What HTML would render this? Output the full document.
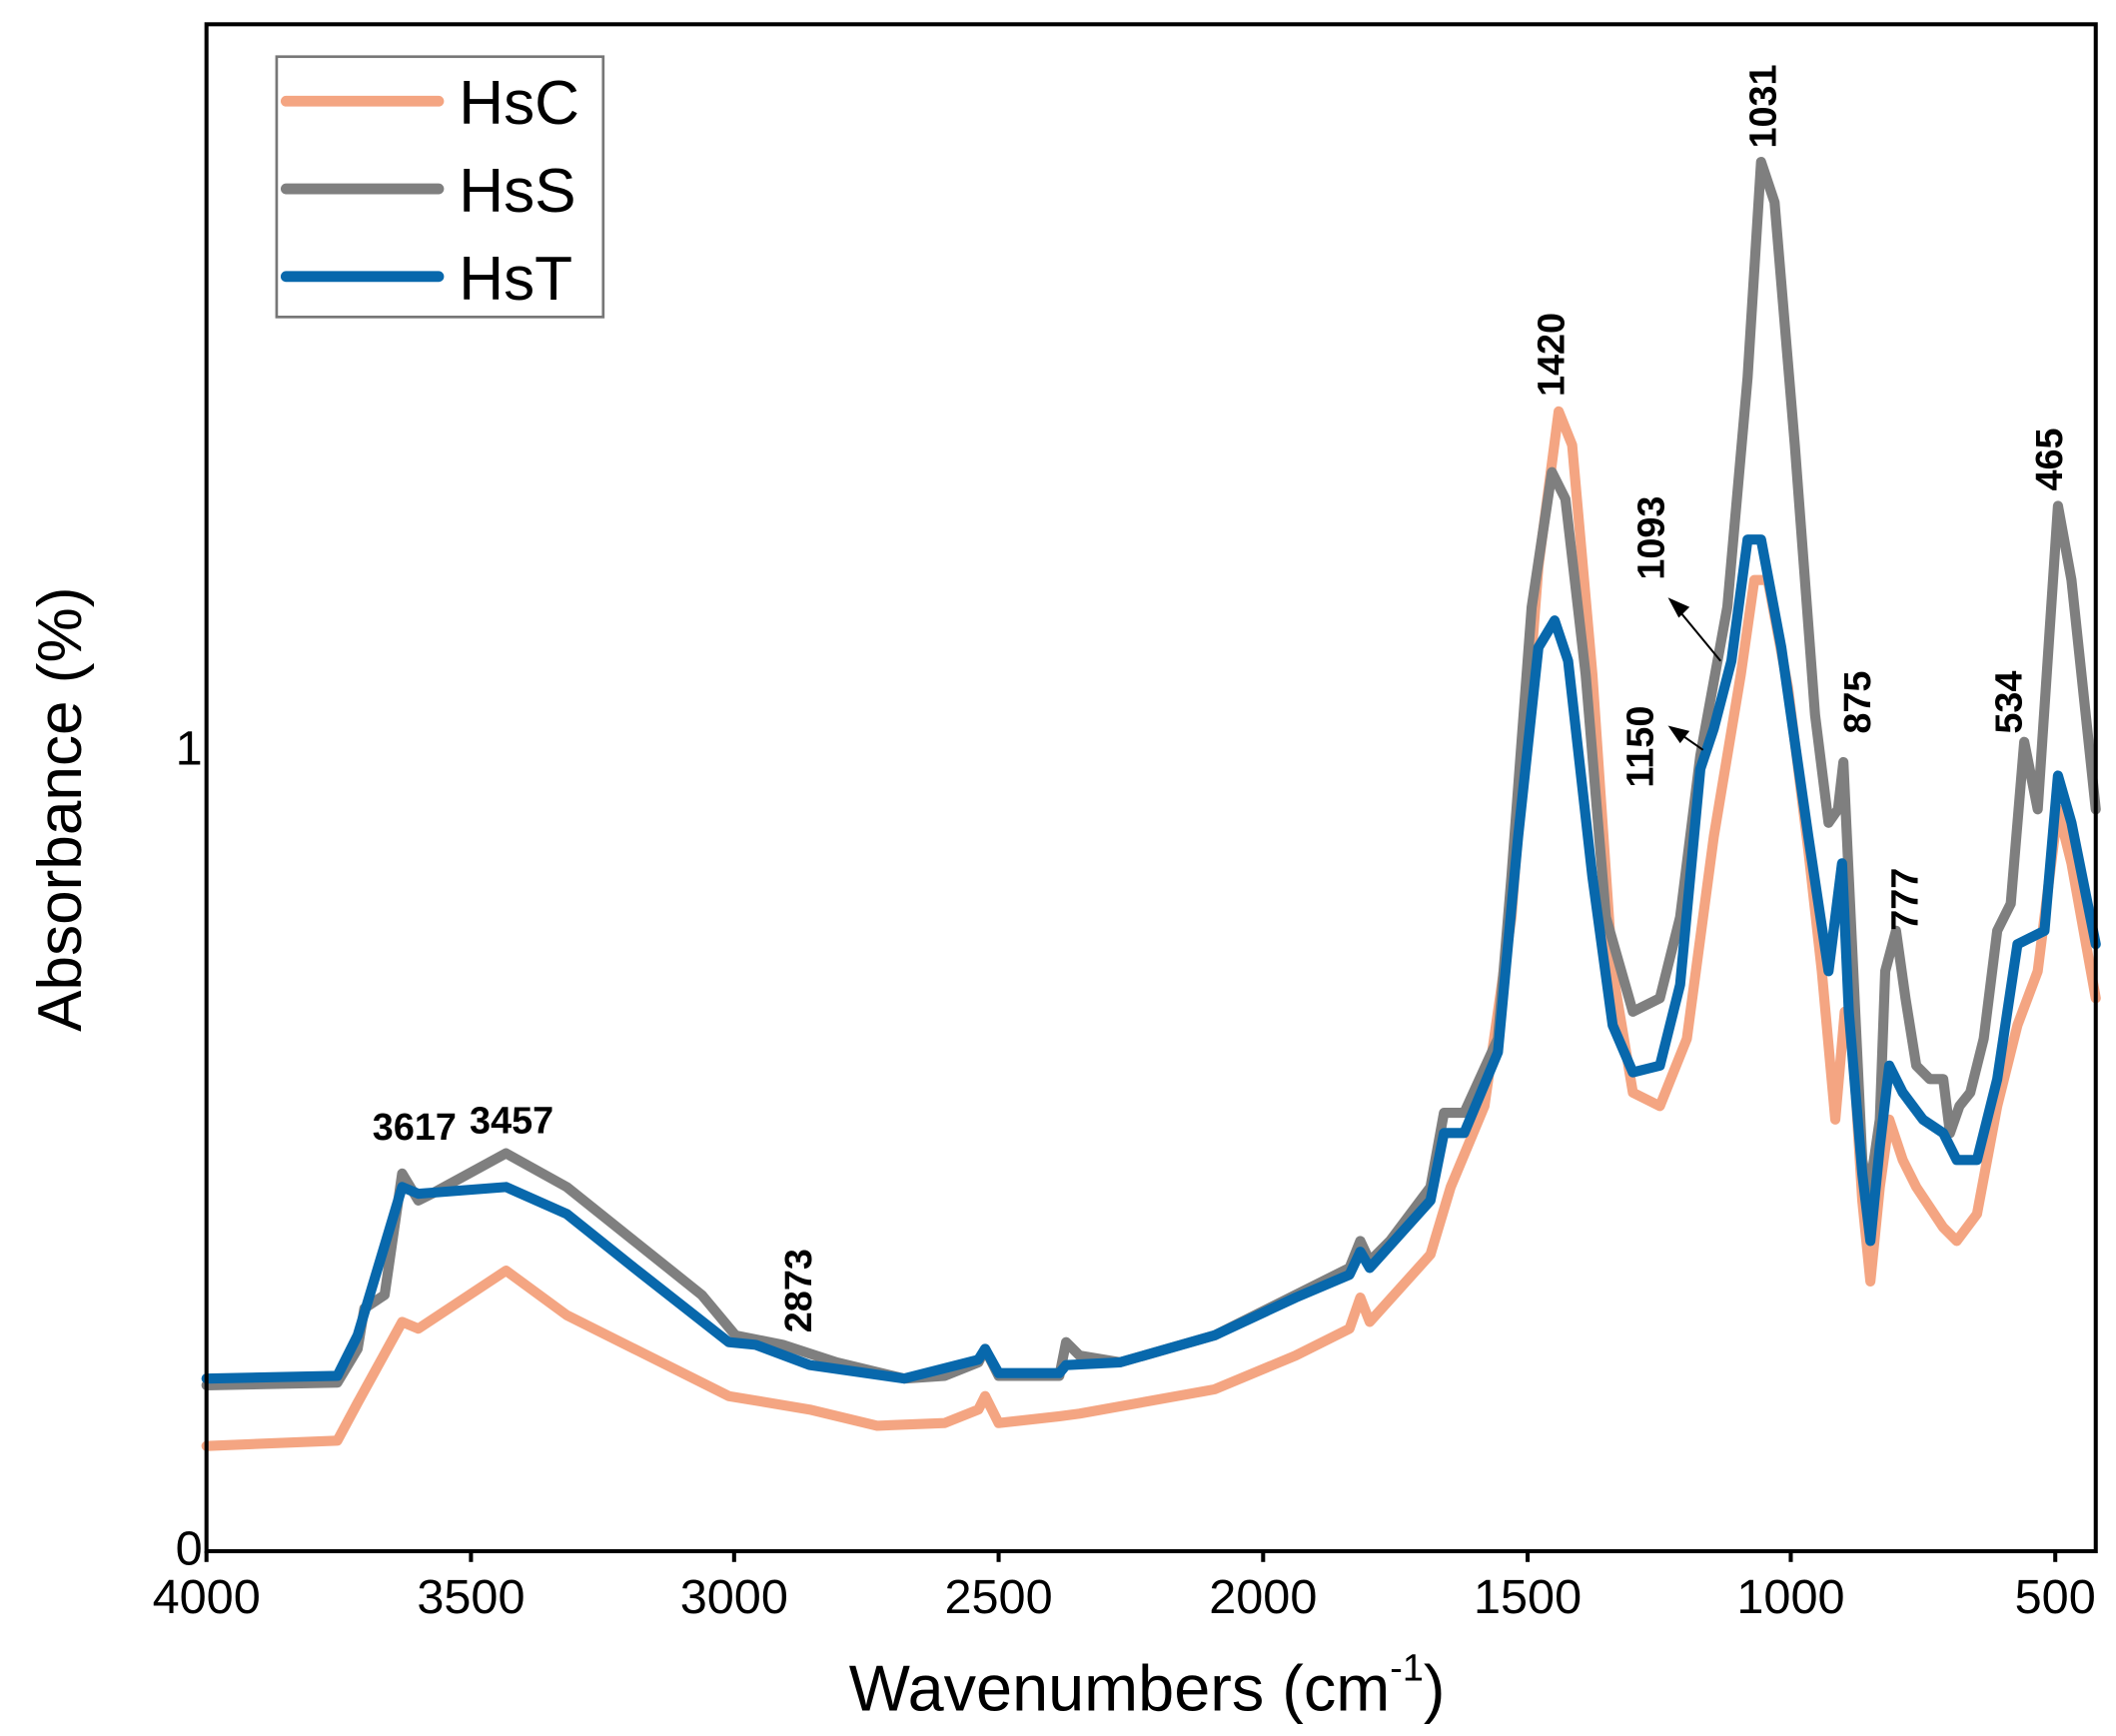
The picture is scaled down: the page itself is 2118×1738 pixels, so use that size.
<!DOCTYPE html>
<html><head><meta charset="utf-8"><style>
html,body{margin:0;padding:0;background:#fff;}
svg{display:block;}
text{font-family:"Liberation Sans",Arial,sans-serif;fill:#000;}
</style></head><body>
<svg width="2118" height="1738" viewBox="0 0 1568 1287" preserveAspectRatio="none" xmlns="http://www.w3.org/2000/svg">
<rect width="1568" height="1287" fill="#fff"/>
<g fill="none" stroke-width="7.5" stroke-linejoin="round" stroke-linecap="round">
<polyline stroke="#f4a582" points="153,1072 250,1068 265,1040 298,980 310,985 375,942 420,975 470,1000 540,1035 600,1045 650,1057 700,1055 725,1045 730,1035 740,1055 785,1050 800,1048 900,1030 960,1005 1000,985 1008,962 1015,980 1060,930 1075,880 1100,820 1120,680 1140,420 1155,305 1165,330 1180,500 1195,720 1210,810 1230,820 1250,770 1270,620 1290,500 1300,430 1310,430 1325,510 1340,630 1350,720 1360,830 1367,750 1372,760 1380,890 1386,950 1393,880 1400,830 1410,860 1420,880 1440,910 1450,920 1465,900 1480,820 1495,760 1510,720 1525,600 1535,640 1553,740"/>
<polyline stroke="#7f7f7f" points="153,1027 250,1025 265,1000 270,970 285,960 298,870 310,890 320,885 375,855 420,880 470,920 520,960 545,990 580,997 620,1010 670,1022 700,1020 725,1010 730,1000 740,1020 785,1020 790,995 800,1005 830,1010 900,990 960,960 1000,940 1008,920 1015,935 1030,920 1060,880 1070,825 1085,825 1110,770 1120,650 1135,450 1150,350 1160,370 1175,500 1190,680 1210,750 1230,740 1245,680 1260,560 1280,450 1295,280 1305,120 1315,150 1330,330 1345,530 1355,610 1362,600 1366,565 1370,650 1380,860 1385,885 1393,830 1397,720 1405,690 1412,740 1420,790 1430,800 1440,800 1445,840 1452,820 1460,810 1470,770 1480,690 1490,670 1500,550 1510,600 1525,375 1535,430 1553,600"/>
<polyline stroke="#0868ac" points="153,1022 250,1020 265,990 298,880 310,885 375,880 420,900 470,940 540,995 560,997 600,1012 670,1022 725,1008 730,1000 740,1018 785,1018 790,1012 830,1010 900,990 960,962 1000,945 1008,928 1015,940 1060,890 1070,840 1085,840 1110,780 1125,620 1140,480 1152,460 1162,490 1180,650 1195,760 1210,795 1230,790 1245,730 1260,570 1270,540 1283,490 1295,400 1305,400 1320,480 1340,620 1355,720 1365,640 1370,750 1380,870 1386,920 1393,850 1400,790 1410,810 1425,830 1440,840 1450,860 1465,860 1480,800 1495,700 1505,695 1515,690 1525,575 1535,610 1553,700"/>
</g>
<rect x="153" y="18" width="1400" height="1132" fill="none" stroke="#000" stroke-width="3"/>
<g stroke="#000" stroke-width="3">
<line x1="153" y1="1150" x2="153" y2="1158"/><line x1="349" y1="1150" x2="349" y2="1158"/><line x1="544" y1="1150" x2="544" y2="1158"/><line x1="740" y1="1150" x2="740" y2="1158"/><line x1="936" y1="1150" x2="936" y2="1158"/><line x1="1132" y1="1150" x2="1132" y2="1158"/><line x1="1327" y1="1150" x2="1327" y2="1158"/><line x1="1523" y1="1150" x2="1523" y2="1158"/>
</g>
<g font-size="36" text-anchor="middle">
<text x="153" y="1196">4000</text><text x="349" y="1196">3500</text><text x="544" y="1196">3000</text><text x="740" y="1196">2500</text><text x="936" y="1196">2000</text><text x="1132" y="1196">1500</text><text x="1327" y="1196">1000</text><text x="1523" y="1196">500</text>
<text x="140" y="1160">0</text><text x="140" y="567">1</text>
</g>
<text x="850" y="1268" font-size="48" text-anchor="middle">Wavenumbers (cm<tspan font-size="28" dy="-22">-1</tspan><tspan dy="22">)</tspan></text>
<text transform="translate(60,600) rotate(-90)" font-size="46" text-anchor="middle">Absorbance (%)</text>
<rect x="205" y="42" width="242" height="193" fill="#fff" stroke="#777" stroke-width="2"/>
<g stroke-width="8" stroke-linecap="round">
<line x1="212" y1="75" x2="325" y2="75" stroke="#f4a582"/>
<line x1="212" y1="140" x2="325" y2="140" stroke="#7f7f7f"/>
<line x1="212" y1="205" x2="325" y2="205" stroke="#0868ac"/>
</g>
<g font-size="46"><text x="340" y="92">HsC</text><text x="340" y="157">HsS</text><text x="340" y="222">HsT</text></g>
<g font-size="28" font-weight="bold">
<text x="276" y="845">3617</text><text x="348" y="840">3457</text>
<text transform="translate(601,988) rotate(-90)">2873</text>
<text transform="translate(1159,294) rotate(-90)">1420</text>
<text transform="translate(1316,110) rotate(-90)">1031</text>
<text transform="translate(1233,430) rotate(-90)">1093</text>
<text transform="translate(1225,584) rotate(-90)">1150</text>
<text transform="translate(1386,544) rotate(-90)">875</text>
<text transform="translate(1421,690) rotate(-90)">777</text>
<text transform="translate(1498,544) rotate(-90)">534</text>
<text transform="translate(1528,364) rotate(-90)">465</text>
</g>
<g stroke="#000" stroke-width="1.5"><line x1="1275" y1="490" x2="1242" y2="450"/><line x1="1262" y1="556" x2="1242" y2="542"/></g>
<polygon points="1236,443 1252,450 1244,458" fill="#000"/>
<polygon points="1236,538 1252,542 1245,551" fill="#000"/>
</svg>
</body></html>
